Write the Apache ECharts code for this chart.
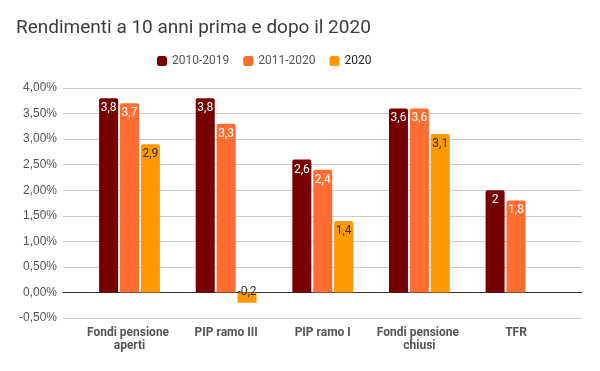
<!DOCTYPE html>
<html><head><meta charset="utf-8">
<script src="https://cdn.jsdelivr.net/npm/echarts@6/dist/echarts.min.js"></script>
<style>html,body{margin:0;padding:0;background:#fff}#c{width:600px;height:371px}</style>
</head><body><div id="c"></div>
<script>
const categories = ["Fondi pensione aperti", "PIP ramo III", "PIP ramo I", "Fondi pensione chiusi", "TFR"];
const seriesNames = ["2010-2019", "2011-2020", "2020"];
const s2010_2019 = [3.8, 3.8, 2.6, 3.6, 2];
const s2011_2020 = [3.7, 3.3, 2.4, 3.6, 1.8];
const s2020 = [2.9, -0.2, 1.4, 3.1, null];
const yMin = -0.5, yMax = 4, yStep = 0.5;
const colors = ["#770000", "#ff6d31", "#ff9900"];
const labelColors = ["#ffffff", "#ffffff", "#333333"];

const font = "Roboto, 'Liberation Sans', Arial, sans-serif";
const arial = "'Liberation Sans', Arial, sans-serif";
const chart = echarts.init(document.getElementById('c'), null, {renderer: 'canvas'});
const fmtNum = v => String(v).replace('.', ',');
const data = [s2010_2019, s2011_2020, s2020];
const series = data.map((d, i) => ({
  name: seriesNames[i], type: 'bar', xAxisIndex: 1, yAxisIndex: 1,
  data: d.map(v => (v !== null && v < 0) ? {value: v, label: {position: 'inside', offset: [0, -6]}} : v),
  barWidth: 19, barGap: '10%',
  itemStyle: {color: colors[i], borderRadius: [2, 2, 0, 0]},
  label: {show: true, position: 'insideTop', distance: 4, color: labelColors[i],
    fontSize: 12, fontFamily: font, formatter: p => fmtNum(p.value)}
}));
chart.setOption({
  animation: false,
  title: {text: "Rendimenti a 10 anni prima e dopo il 2020", left: 16, top: 19, padding: 0,
    textStyle: {fontSize: 19, fontWeight: 'normal', color: '#3c3c3c', fontFamily: font}},
  legend: {left: 157, top: 55, padding: 0, itemWidth: 10, itemHeight: 10, itemGap: 14, icon: 'roundRect',
    textStyle: {fontSize: 12, color: '#555', fontFamily: font},
    data: seriesNames.map((n, i) => ({name: n, textStyle: i === 2 ? {color: '#222'} : {}}))},
  grid: [
    {left: 63, right: 18, top: 88, bottom: 53},
    {left: 81.2, right: 35.7, top: 88, bottom: 53}
  ],
  xAxis: [
    {gridIndex: 0, type: 'value', min: 0, max: 1, axisLine: {show: true, onZero: true, lineStyle: {color: '#333', width: 1}},
     axisTick: {show: false}, axisLabel: {show: false}, splitLine: {show: false}},
    {gridIndex: 1, type: 'category', data: categories, axisLine: {show: false}, axisTick: {show: false},
     axisLabel: {margin: 8, fontSize: 12, fontWeight: 'bold', color: '#555', fontFamily: font, interval: 0,
       width: 92, overflow: 'break', lineHeight: 13}}
  ],
  yAxis: [
    {gridIndex: 0, type: 'value', min: yMin, max: yMax, interval: yStep,
     axisLine: {show: false}, axisTick: {show: false},
     axisLabel: {margin: 6, fontSize: 12, color: '#555', fontFamily: arial,
       formatter: v => v.toFixed(2).replace('.', ',') + '%'},
     splitLine: {lineStyle: {color: '#cccccc', width: 1}}},
    {gridIndex: 1, type: 'value', min: yMin, max: yMax, interval: yStep, show: false, splitLine: {show: false}}
  ],
  series: series
});
</script></body></html>
